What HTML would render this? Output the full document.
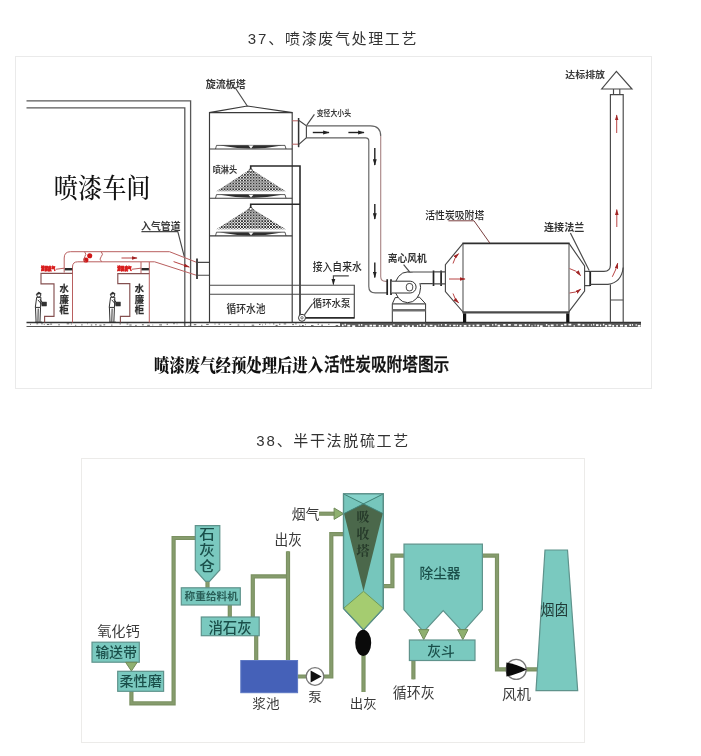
<!DOCTYPE html>
<html lang="zh-CN">
<head>
<meta charset="utf-8">
<title>工艺流程图</title>
<style>
html,body{margin:0;padding:0;background:#fff;}
body{width:701px;height:756px;position:relative;overflow:hidden;font-family:"Liberation Sans","Noto Sans CJK SC",sans-serif;}
.title{position:absolute;left:0;width:666px;text-align:center;font-size:15px;line-height:20px;letter-spacing:1.64px;color:#333;white-space:nowrap;}
.title span{letter-spacing:1.9px;}
#t1{top:28.5px;}
#t2{top:430.5px;}
.fig{position:absolute;left:0;top:0;width:701px;height:756px;will-change:transform;}
.title{will-change:transform;}
svg text{font-family:"Liberation Sans","Noto Sans CJK SC",sans-serif;}
svg .serif{font-family:"Liberation Serif","Noto Serif CJK SC",serif;}
svg .k{fill:none;stroke:#484848;stroke-width:1.15;}
svg .r{fill:none;stroke:#b95f5f;stroke-width:1;}
svg .pipe{fill:none;stroke:#7b9162;stroke-width:4.2;stroke-linejoin:miter;}
svg .pipei{fill:none;stroke:#869c6d;stroke-width:2;stroke-linejoin:miter;}
svg .box{fill:#7ac9bf;stroke:#5f938c;stroke-width:1.2;}
svg .bt{fill:#1a4f4a;font-size:13.5px;font-weight:500;}
svg .lb{fill:#3a3a3a;font-size:13.5px;}
svg .s1{fill:#222;font-size:10px;}
</style>
</head>
<body>
<div class="title" id="t1"><span>37</span>、喷漆废气处理工艺</div>
<div class="title" id="t2"><span>38</span>、半干法脱硫工艺</div>
<svg class="fig" width="701" height="756" viewBox="0 0 701 756">
<g id="fig1">
<rect x="15.5" y="56.5" width="636" height="332" fill="#fff" stroke="#eaeaea" stroke-width="1"/>
<defs>
<pattern id="mesh" x="250.7" y="169" width="2.9" height="2.9" patternUnits="userSpaceOnUse">
<rect width="2.9" height="2.9" fill="#fff"/>
<path d="M0 0 L2.9 2.9 M2.9 0 L0 2.9" stroke="#333" stroke-width="0.95" fill="none"/>
</pattern>
<marker id="ak" viewBox="0 0 10 6" refX="9" refY="3" markerWidth="6.5" markerHeight="4.4" orient="auto" markerUnits="userSpaceOnUse"><path d="M0 0 L10 3 L0 6 Z" fill="#222"/></marker>
<marker id="ar" viewBox="0 0 10 6" refX="9" refY="3" markerWidth="6" markerHeight="3.6" orient="auto" markerUnits="userSpaceOnUse"><path d="M0 0 L10 3 L0 6 Z" fill="#a02525"/></marker>
</defs>
<path class="k" style="stroke:#585858;stroke-width:1.3" d="M26.5 100.8 H190.6 V327 M26.5 107.9 H184.8 V327"/>
<text class="serif" transform="translate(53.83 197.79) scale(1.0077 1.1156)" style="font-size:24px;font-weight:500;fill:#111">喷漆车间</text>
<rect x="340" y="322" width="301" height="5" fill="#5e5e5e"/>
<path d="M26.5 322.5 H641" fill="none" stroke="#333" stroke-width="1.3"/>
<path d="M26.5 326.5 H340" fill="none" stroke="#555" stroke-width="1"/>
<path d="M30.0 324.3 h0.9 M36.4 323.8 h1.8 M41.1 323.8 h1.7 M43.8 324.5 h0.8 M46.9 324.5 h2.4 M50.1 324.1 h2.0 M58.3 324.8 h1.5 M66.7 323.8 h2.5 M70.9 324.0 h0.9 M75.2 325.3 h1.0 M81.2 324.9 h1.4 M87.0 323.8 h0.7 M90.8 325.0 h1.5 M95.1 324.8 h1.6 M99.4 325.2 h2.1 M103.4 324.8 h1.8 M111.2 325.1 h1.2 M119.5 323.9 h1.5 M126.6 324.0 h1.7 M129.3 325.0 h2.3 M135.3 325.4 h1.3 M141.9 324.8 h1.9 M147.2 325.3 h2.7 M152.5 325.0 h0.7 M159.2 324.9 h2.8 M166.6 324.2 h1.4 M173.2 323.7 h1.6 M176.7 323.9 h0.7 M183.8 323.9 h1.1 M188.6 325.4 h0.8 M193.8 324.7 h2.5 M201.2 325.3 h1.2 M206.2 324.4 h2.5 M214.5 324.0 h1.0 M218.4 324.1 h1.7 M224.4 324.2 h0.6 M229.4 324.4 h1.8 M237.6 325.0 h1.7 M243.8 325.0 h0.7 M251.7 325.2 h2.5 M259.0 324.4 h1.5 M262.1 324.9 h0.7 M265.0 324.1 h1.0 M269.6 323.8 h0.6 M273.0 323.9 h1.4 M275.6 325.4 h2.0 M279.0 324.2 h1.4 M283.7 323.9 h2.5 M292.2 324.6 h1.7 M295.2 323.9 h1.4 M299.3 325.3 h1.0 M301.9 325.5 h1.8 M305.3 324.7 h0.7 M311.0 325.6 h2.5 M317.6 324.2 h1.4 M321.2 325.2 h1.8 M328.3 324.3 h1.1 M335.7 325.6 h2.5 M343.0 325.3 h2.2 " fill="none" stroke="#555" stroke-width="0.9"/>
<path d="M342.0 325.4 h1.6 M344.5 324.6 h1.4 M347.3 325.7 h2.9 M352.2 326.1 h3.0 M358.5 325.2 h1.3 M361.1 324.9 h1.2 M364.8 326.0 h2.6 M369.5 325.6 h2.6 M373.1 325.7 h2.8 M378.7 325.8 h1.9 M381.8 325.9 h1.5 M386.3 326.2 h1.7 M389.8 326.1 h2.4 M393.4 324.8 h1.1 M397.7 325.9 h1.1 M401.8 326.2 h2.2 M405.7 325.5 h1.1 M407.6 326.2 h2.2 M412.0 326.1 h1.8 M416.9 325.9 h1.3 M419.6 325.1 h1.3 M423.2 325.0 h1.7 M426.1 326.1 h1.6 M429.7 325.5 h2.8 M434.4 326.1 h1.9 M438.4 325.4 h0.8 M441.2 324.9 h0.8 M444.9 324.9 h1.8 M449.4 325.5 h1.5 M453.1 325.5 h2.5 M456.7 325.5 h1.3 M459.6 325.8 h1.9 M463.7 325.8 h2.8 M468.5 325.6 h1.9 M472.6 325.7 h1.8 M476.5 325.4 h2.9 M482.0 326.0 h2.9 M486.4 325.5 h2.9 M492.2 324.8 h1.1 M495.2 324.7 h1.3 M497.6 325.7 h2.5 M503.2 324.8 h2.4 M508.1 324.8 h2.7 M514.2 325.0 h2.9 M518.9 325.4 h3.0 M524.8 324.9 h1.7 M528.7 325.1 h1.2 M531.6 325.8 h0.8 M534.7 325.3 h0.8 M537.2 325.6 h1.9 M540.1 326.2 h2.5 M545.9 324.8 h1.4 M548.2 325.8 h1.4 M550.8 325.3 h2.8 M556.5 325.0 h1.1 M560.8 325.5 h2.3 M564.2 324.7 h2.3 M568.4 324.7 h2.9 M573.7 325.9 h1.0 M577.7 324.7 h2.7 M582.4 325.1 h2.0 M587.6 325.0 h1.1 M590.9 325.0 h1.0 M593.1 324.7 h1.2 M596.0 325.1 h2.5 M600.0 325.4 h1.2 M602.9 324.6 h1.4 M605.1 325.8 h2.0 M608.4 325.4 h2.9 M612.3 325.9 h1.8 M616.2 325.9 h1.7 M620.0 325.7 h3.0 M624.6 325.9 h2.4 M629.4 325.2 h1.6 M631.9 324.8 h1.0 M635.6 325.0 h1.2 M637.8 325.9 h2.7 " fill="none" stroke="#fff" stroke-width="1.7"/>
<path class="r" d="M64.2 272.5 V258 Q64.2 251.7 70.5 251.7 H169.5 L196.5 262.3"/>
<path class="r" d="M72.5 322.5 V267 Q72.5 261.8 77.7 261.8 H154.6 L196.5 275.3"/>
<path class="r" d="M141 262 V273.5 M149.3 262 V322.5"/>
<path class="r" d="M101.2 251.7 q2.6 2.6 0 5 t0.4 5" />
<circle cx="89.7" cy="255.7" r="2.55" fill="#d01818"/><circle cx="85.9" cy="260" r="2.55" fill="#d01818"/>
<path class="r" d="M84.6 251.7 q2.4 2.6 0.2 5 t0.6 5" stroke-width="0.9"/>
<path d="M121.5 258 H137" fill="none" stroke="#b03030" stroke-width="0.9" marker-end="url(#ar)"/>
<path d="M173.6 261.6 L189.3 267.1" fill="none" stroke="#b03030" stroke-width="0.9" marker-end="url(#ar)"/>
<text x="41.0" y="269.9" style="font-size:4.6px;font-weight:bold;fill:#d81e1e;stroke:#d81e1e;stroke-width:0.7" textLength="14.2" lengthAdjust="spacingAndGlyphs">漆雾废气</text>
<text x="117.3" y="269.9" style="font-size:4.6px;font-weight:bold;fill:#d81e1e;stroke:#d81e1e;stroke-width:0.7" textLength="14.2" lengthAdjust="spacingAndGlyphs">漆雾废气</text>
<path class="r" d="M55.5 269.3 L64.2 268.2 M131.6 269.3 L141 268.2" stroke-width="0.8"/>
<rect x="64.8" y="268" width="7.4" height="2.4" fill="#2a2a2a"/>
<rect x="141.5" y="268" width="7.4" height="2.4" fill="#2a2a2a"/>
<path class="k" style="stroke:#855050" d="M72.5 273.4 H41 V283.8 H54 V316.3 H44.6 V322.5"/>
<path class="k" style="stroke:#855050" d="M149.3 273.6 H117.8 V283.6 H129.8 V316.3 H120.4 V322.5"/>
<text x="64.2" y="291.6" text-anchor="middle" class="s1" style="font-size:9.3px;font-weight:700;fill:#2e2e2e;stroke:#2e2e2e;stroke-width:0.25">水</text><text x="64.2" y="302.5" text-anchor="middle" class="s1" style="font-size:9.3px;font-weight:700;fill:#2e2e2e;stroke:#2e2e2e;stroke-width:0.25">廉</text><text x="64.2" y="313.4" text-anchor="middle" class="s1" style="font-size:9.3px;font-weight:700;fill:#2e2e2e;stroke:#2e2e2e;stroke-width:0.25">柜</text>
<text x="139.5" y="291.6" text-anchor="middle" class="s1" style="font-size:9.3px;font-weight:700;fill:#2e2e2e;stroke:#2e2e2e;stroke-width:0.25">水</text><text x="139.5" y="302.5" text-anchor="middle" class="s1" style="font-size:9.3px;font-weight:700;fill:#2e2e2e;stroke:#2e2e2e;stroke-width:0.25">廉</text><text x="139.5" y="313.4" text-anchor="middle" class="s1" style="font-size:9.3px;font-weight:700;fill:#2e2e2e;stroke:#2e2e2e;stroke-width:0.25">柜</text>
<g transform="translate(38.8 295) scale(0.97)" fill="none" stroke="#2a2a2a" stroke-width="1"><path d="M-2.2 2.4 L-3.6 12.8 L1.8 12.8 L2.2 2.4 Z" fill="#fff"/><path d="M-3.4 12.8 L-2.8 27.6 M1.8 12.8 L1.2 27.6 M-0.6 14 L-0.9 27.6 M-3.8 28 H3.2"/><circle cx="0" cy="0" r="2.1" fill="#fff"/><path d="M-2.6 -0.6 L-0.2 -3 L2.6 -1.4 Z" fill="#333" stroke-width="0.6"/><path d="M1.2 4.2 L4.2 8.6 M-1 5 L3.2 9.8"/><rect x="3.2" y="7.3" width="4.6" height="4" fill="#333" stroke="#222" stroke-width="0.6"/></g>
<g transform="translate(112.7 295) scale(0.97)" fill="none" stroke="#2a2a2a" stroke-width="1"><path d="M-2.2 2.4 L-3.6 12.8 L1.8 12.8 L2.2 2.4 Z" fill="#fff"/><path d="M-3.4 12.8 L-2.8 27.6 M1.8 12.8 L1.2 27.6 M-0.6 14 L-0.9 27.6 M-3.8 28 H3.2"/><circle cx="0" cy="0" r="2.1" fill="#fff"/><path d="M-2.6 -0.6 L-0.2 -3 L2.6 -1.4 Z" fill="#333" stroke-width="0.6"/><path d="M1.2 4.2 L4.2 8.6 M-1 5 L3.2 9.8"/><rect x="3.2" y="7.3" width="4.6" height="4" fill="#333" stroke="#222" stroke-width="0.6"/></g>
<text transform="translate(141.00 229.72) scale(0.9898 1.0430)" style="font-size:10.0px;font-weight:700;fill:#3a3a3a">入气管道</text>
<path class="k" d="M141.4 231.6 H177.8 L184.3 256.6" stroke-width="0.9"/>
<path d="M197 258.5 V279" stroke="#333" stroke-width="1.8" fill="none"/>
<path class="k" d="M197 262.4 H209.5 M197 275.2 H209.5"/>
<path stroke="#3a3a3a" stroke-width="1.15" fill="none" d="M209.5 322.5 V112.6 L247.3 106 L292.2 112.6 V322.5"/>
<path stroke="#3a3a3a" stroke-width="1.15" fill="none" d="M209.5 112.6 H292.2 M209.5 149 H292.2 M209.5 198.2 H292.2 M209.5 235.8 H292.2"/>
<text transform="translate(205.70 88.00) scale(1.0051 1.0645)" style="font-size:10.0px;font-weight:700;fill:#3a3a3a">旋流板塔</text>
<path class="k" d="M234.7 87 L247.3 106"/>
<path d="M215.5 149 L216.5 145.4 H285 L286 149" fill="none" stroke="#333" stroke-width="0.8"/><path d="M220 145.6 H282 Q251 151.6 220 145.6 Z" fill="#2e2e2e"/><path d="M248.5 145.6 L251 148.4 L253.5 145.6 Z" fill="#fff"/>
<path d="M215.5 198.2 L216.5 194.6 H285 L286 198.2" fill="none" stroke="#333" stroke-width="0.8"/><path d="M220 194.8 H282 Q251 200.8 220 194.8 Z" fill="#2e2e2e"/><path d="M248.5 194.79999999999998 L251 197.6 L253.5 194.79999999999998 Z" fill="#fff"/>
<path d="M215.5 235.8 L216.5 232.20000000000002 H285 L286 235.8" fill="none" stroke="#333" stroke-width="0.8"/><path d="M220 232.4 H282 Q251 238.4 220 232.4 Z" fill="#2e2e2e"/><path d="M248.5 232.4 L251 235.20000000000002 L253.5 232.4 Z" fill="#fff"/>
<path d="M250.7 169 L285.8 191.2 H216.4 Z" fill="url(#mesh)" stroke="none"/>
<circle cx="250.7" cy="170.3" r="1.6" fill="#fff" stroke="#333" stroke-width="0.8"/>
<path d="M250.7 207.6 L285.8 229.2 H216.4 Z" fill="url(#mesh)" stroke="none"/>
<circle cx="250.7" cy="208.9" r="1.6" fill="#fff" stroke="#333" stroke-width="0.8"/>
<text transform="translate(212.67 172.75) scale(0.8219 0.8710)" style="font-size:10.0px;font-weight:700;fill:#3a3a3a">喷淋头</text>
<path d="M250.7 169.4 V166 H300 V316 M250.7 208 V204.3 H300" fill="none" stroke="#2a2a2a" stroke-width="1.6"/>
<path class="k" d="M209.5 285.2 H354.3 V318.6 M209.5 294.2 H354.3"/>
<path d="M305.4 317.8 H354.3" stroke="#2a2a2a" stroke-width="1.8" fill="none"/>
<circle cx="302" cy="317.8" r="3.5" fill="#fff" stroke="#333" stroke-width="1"/><circle cx="302" cy="317.8" r="1.2" fill="none" stroke="#333" stroke-width="0.7"/>
<text transform="translate(226.61 312.69) scale(0.9770 1.0860)" style="font-size:10.0px;font-weight:500;fill:#2a2a2a">循环水池</text>
<text transform="translate(312.71 271.27) scale(0.9817 1.1075)" style="font-size:10.0px;font-weight:500;fill:#2a2a2a">接入自来水</text>
<path class="k" d="M348.8 275.8 H333.4 V284.6" marker-end="url(#ak)"/>
<text transform="translate(312.72 307.35) scale(0.9439 1.0000)" style="font-size:10.0px;font-weight:500;fill:#2a2a2a">循环水泵</text>
<path class="k" d="M312.6 303.6 L304.4 314.8" stroke-width="0.9"/>
<path class="r" d="M292.2 120.8 H298.6 M292.2 144.2 H298.6"/>
<path d="M298.6 118 V147.2" stroke="#333" stroke-width="1.5" fill="none"/>
<path class="k" d="M298.6 120.2 L306.4 125.7 V137.7 L298.6 144.6"/>
<text transform="translate(316.73 115.90) scale(0.6870 0.8065)" style="font-size:10.0px;font-weight:700;fill:#3a3a3a">变径大小头</text>
<path class="k" d="M314.4 114.4 L306.8 125.2" stroke-width="0.9"/>
<path class="k" style="stroke:#626262" d="M306.4 125.8 H370.5 Q380.7 125.8 380.7 136"/>
<path class="k" style="stroke:#ab8888" d="M380.7 136 V276.5 Q380.7 281.3 385.5 281.3 H387"/>
<path class="k" style="stroke:#626262" d="M306.4 137.8 H365.6 Q368.8 137.8 368.8 141 V286.5 Q368.8 292.9 375.2 292.9 H387"/>
<path fill="none" stroke="#222" stroke-width="1.4" marker-end="url(#ak)" d="M312.8 132.5 H329"/><path fill="none" stroke="#222" stroke-width="1.4" marker-end="url(#ak)" d="M348.4 132.5 H364"/>
<path fill="none" stroke="#222" stroke-width="1.4" marker-end="url(#ak)" d="M374.8 148 V165"/><path fill="none" stroke="#222" stroke-width="1.4" marker-end="url(#ak)" d="M374.8 204 V219"/><path fill="none" stroke="#222" stroke-width="1.4" marker-end="url(#ak)" d="M374.8 262.5 V277.5"/>
<path d="M387.2 279.2 V295 M391 279.2 V295" stroke="#222" stroke-width="1.7" fill="none"/>
<path stroke="#333" stroke-width="1" fill="#fff" d="M395.2 297.6 L392.3 303.8 V322.3 H425.6 V303.8 L419.5 297.2 Z"/>
<path class="k" d="M392.5 303.8 H425.4"/><path d="M392.5 310.2 H425.4" fill="none" stroke="#6e6e6e" stroke-width="2.6"/>
<ellipse stroke="#333" stroke-width="1" fill="#fff" cx="407.7" cy="287.3" rx="12.9" ry="15.4"/>
<rect x="408" y="272.5" width="25" height="10.6" fill="#fff"/>
<path class="k" d="M407.5 272 H432.8 M420.4 283.6 H432.8"/>
<path stroke="#333" stroke-width="1" fill="#fff" d="M391.6 281.2 H410.2 A5.9 5.9 0 0 1 410.2 293 H391.6"/>
<rect x="406.3" y="283.5" width="6.4" height="7.4" rx="2.8" fill="#fff" stroke="#333" stroke-width="0.9"/>
<path d="M433.5 270.6 V286 M441.1 270.6 V286" stroke="#222" stroke-width="1.7" fill="none"/>
<path class="k" d="M433.6 271.8 H445.3 M433.6 283.8 H445.3"/>
<text transform="translate(387.81 261.92) scale(0.9745 1.0430)" style="font-size:10.0px;font-weight:700;fill:#333">离心风机</text>
<path class="k" d="M403.6 264.6 L409.6 271.8" stroke-width="0.9"/>
<path d="M463 243.4 V312.6 M569 243.4 V312.6" fill="none" stroke="#5a5a5a" stroke-width="1.1"/>
<path d="M462.4 243.4 H569.6" fill="none" stroke="#2e2e2e" stroke-width="1.8"/>
<path d="M462.4 312.4 H569.6" stroke="#4a4a4a" stroke-width="2.4" fill="none"/>
<path class="k" d="M463 243.4 L445.4 264.6 V291.5 L463 312"/>
<path class="k" d="M569 243.4 L584.6 266 V291 L569 311.6"/>
<rect x="463" y="313.4" width="3.2" height="9" fill="#111"/><rect x="566.2" y="313.4" width="3.2" height="9" fill="#111"/>
<text transform="translate(425.21 219.19) scale(0.9865 1.0753)" style="font-size:10.0px;font-weight:500;fill:#2a2a2a">活性炭吸附塔</text>
<path class="r" style="stroke:#7a4040" d="M448.4 220.8 H474 L489.8 243" stroke-width="0.9"/>
<path fill="none" stroke="#b03030" stroke-width="0.9" marker-end="url(#ar)" d="M449 279 H465"/>
<path fill="none" stroke="#b03030" stroke-width="0.9" marker-end="url(#ar)" d="M453 263.5 Q454.5 257.5 458.6 253.6"/>
<path fill="none" stroke="#b03030" stroke-width="0.9" marker-end="url(#ar)" d="M453 293.5 Q454.5 299 458.6 302.8"/>
<path fill="none" stroke="#b03030" stroke-width="0.9" marker-end="url(#ar)" d="M569.6 268.6 Q576 270 580.6 275.6"/>
<path fill="none" stroke="#b03030" stroke-width="0.9" marker-end="url(#ar)" d="M569.6 293 Q575.5 293 580.8 289.2"/>
<text transform="translate(544.10 230.53) scale(1.0026 1.0215)" style="font-size:10.0px;font-weight:700;fill:#333">连接法兰</text>
<path class="k" d="M570.4 233 L589.2 270.6" stroke-width="0.9"/>
<path class="k" d="M584.3 271.4 H590 M584.3 285.6 H590"/>
<path d="M590.2 271 V286" stroke="#222" stroke-width="1.8" fill="none"/>
<path class="k" d="M590.2 271.4 H604 Q610.4 271.4 610.4 265 V94.6 H623.2 V322.3"/>
<path class="k" d="M590.2 284.4 H608 Q621.5 282.5 623.2 267.5"/>
<path class="k" d="M610.4 284.4 V322.3 M610.4 300 H623.2"/>
<path class="k" d="M616.4 71.4 L632 89 H601.7 Z M613.5 89 V94.6 M619.8 89 V94.6"/>
<text transform="translate(565.30 77.79) scale(0.9923 0.9462)" style="font-size:10.0px;font-weight:700;fill:#3a3a3a">达标排放</text>
<path fill="none" stroke="#b03030" stroke-width="0.9" marker-end="url(#ar)" d="M616.7 133 V115"/><path fill="none" stroke="#b03030" stroke-width="0.9" marker-end="url(#ar)" d="M616.8 227 V209.6"/>
<path fill="none" stroke="#b03030" stroke-width="0.9" marker-end="url(#ar)" d="M612.3 276.8 Q616 270 617.7 263.2"/>
<text class="serif" transform="translate(154.08 371.72) scale(0.9610 1.1492)" style="font-size:16px;font-weight:900;fill:#111">喷漆废气经预处理后进入</text>
<text transform="translate(323.97 371.48) scale(0.9793 1.1022)" style="font-size:16px;font-weight:500;fill:#111" stroke="#111" stroke-width="0.35">活性炭吸附塔图示</text>
</g>
<g id="fig2">
<rect x="81.5" y="458.5" width="503" height="284" fill="#fff" stroke="#ecebe9" stroke-width="1"/>
<path class="pipe" d="M131.4 690 V703.3 H173.6 V538 H196"/><path class="pipei" d="M131.4 690 V703.3 H173.6 V538 H196"/>
<path class="pipe" d="M207.5 580 V589"/><path class="pipei" d="M207.5 580 V589"/>
<path class="pipe" d="M229.8 604 V618"/><path class="pipei" d="M229.8 604 V618"/>
<path class="pipe" d="M252.8 618 V576.4 H288"/><path class="pipei" d="M252.8 618 V576.4 H288"/>
<path class="pipe" d="M288 551.3 V661"/><path class="pipei" d="M288 551.3 V661"/>
<path class="pipe" d="M256.2 635 V661"/><path class="pipei" d="M256.2 635 V661"/>
<path class="pipe" d="M297 676.5 H331.3 V534.2 H344"/><path class="pipei" d="M297 676.5 H331.3 V534.2 H344"/>
<path class="pipe" d="M319 513.7 H336"/><path class="pipei" d="M319 513.7 H336"/>
<path class="pipe" d="M363.5 650 V692"/><path class="pipei" d="M363.5 650 V692"/>
<path class="pipe" d="M383 586.1 H392.4 V555.6 H404"/><path class="pipei" d="M383 586.1 H392.4 V555.6 H404"/>
<path class="pipe" d="M482 555.6 H497 V669.3 H537"/><path class="pipei" d="M482 555.6 H497 V669.3 H537"/>
<path class="pipe" d="M413.4 660 V679.3"/><path class="pipei" d="M413.4 660 V679.3"/>
<path d="M334.1 508 L343.6 513.7 L334.1 519.4 Z" fill="#8fb070" stroke="#6f8a58" stroke-width="1"/>
<path class="box" d="M195.3 525.6 H219.8 V570 L209.5 581.3 H205.5 L195.3 570 Z"/>
<text transform="translate(199.37 539.49) scale(1.1594 0.9956)" style="font-size:13.5px;font-weight:500;fill:#1a4f4a">石</text>
<text transform="translate(199.37 555.44) scale(1.1594 1.0514)" style="font-size:13.5px;font-weight:500;fill:#1a4f4a">灰</text>
<text transform="translate(199.37 570.88) scale(1.1594 1.0036)" style="font-size:13.5px;font-weight:500;fill:#1a4f4a">仓</text>
<rect class="box" x="181.3" y="587.8" width="59" height="17.2"/>
<text transform="translate(184.57 600.49) scale(1.0671 1.0753)" style="font-size:10px;font-weight:700;fill:#2a5f58">称重给料机</text>
<rect class="box" x="201.3" y="617" width="57.9" height="18.7"/>
<text transform="translate(208.42 632.85) scale(1.0705 1.1310)" style="font-size:13.5px;font-weight:500;fill:#1a4f4a">消石灰</text>
<text transform="translate(97.13 635.52) scale(1.0553 0.9717)" style="font-size:13.5px;font-weight:400;fill:#3a3a3a">氧化钙</text>
<rect class="box" x="92" y="642.2" width="47.3" height="20"/>
<text transform="translate(95.55 657.28) scale(1.0223 1.0115)" style="font-size:13.5px;font-weight:500;fill:#1a4f4a">输送带</text>
<path d="M125.6 662.3 H137.2 L131.4 671 Z" fill="#8fb070" stroke="#6f8a58" stroke-width="1"/>
<rect class="box" x="117.7" y="671.3" width="45.9" height="20"/>
<text transform="translate(119.54 686.38) scale(1.0426 1.0115)" style="font-size:13.5px;font-weight:500;fill:#1a4f4a">柔性磨</text>
<rect x="240.8" y="660.5" width="56.8" height="32.2" fill="#4561b8" stroke="#5d78c4" stroke-width="1"/>
<text transform="translate(252.25 708.12) scale(1.0108 0.9638)" style="font-size:13.5px;font-weight:400;fill:#3a3a3a">浆池</text>
<circle cx="315" cy="676.5" r="8.8" fill="#fff" stroke="#777" stroke-width="1.3"/>
<path d="M310.6 670.6 L321.6 676.5 L310.6 682.4 Z" fill="#111"/>
<text transform="translate(308.26 700.62) scale(1.0064 0.9638)" style="font-size:13.5px;font-weight:400;fill:#3a3a3a">泵</text>
<text transform="translate(291.64 518.96) scale(1.0340 1.0275)" style="font-size:13.5px;font-weight:400;fill:#3a3a3a">烟气</text>
<text transform="translate(274.55 545.12) scale(1.0108 1.0673)" style="font-size:13.5px;font-weight:400;fill:#3a3a3a">出灰</text>
<text transform="translate(349.76 708.12) scale(0.9954 0.9638)" style="font-size:13.5px;font-weight:400;fill:#3a3a3a">出灰</text>
<path d="M343.5 493.9 H383.3 V608.4 L363.5 629.8 L343.5 608.4 Z" fill="#76c6bc" stroke="#5a8f88" stroke-width="1.2"/>
<path d="M343.5 493.9 L363.4 504 L383.3 493.9 Z" fill="#86d3cb"/>
<path d="M344 513.6 L363.4 504 L382.8 513.6 L363.5 591.3 Z" fill="#4b684b"/>
<path d="M343.5 493.9 L383 513.6 M383.3 493.9 L344 513.6" fill="none" stroke="#3f7f73" stroke-width="1"/>
<path d="M363.5 591.3 L383.3 608.4 L363.5 629.8 L343.5 608.4 Z" fill="#a5cc70" stroke="#6f9a5a" stroke-width="1"/>
<path d="M343.5 493.9 H383.3 V608.4 L363.5 629.8 L343.5 608.4 Z" fill="none" stroke="#5a8f88" stroke-width="1.2"/>
<text x="362.9" y="520.8" text-anchor="middle" class="bt serif" style="font-size:13px;fill:#263a2a;font-weight:700">吸</text><text x="362.9" y="537.8" text-anchor="middle" class="bt serif" style="font-size:13px;fill:#263a2a;font-weight:700">收</text><text x="362.9" y="554.6" text-anchor="middle" class="bt serif" style="font-size:13px;fill:#263a2a;font-weight:700">塔</text>
<ellipse cx="363.2" cy="642.8" rx="8" ry="13.1" fill="#0a0a0a"/>
<path class="box" d="M404 544.2 H482.4 V609.8 L464.5 629.8 H461 L443.2 610.7 L425.4 629.8 H422 L404 609.8 Z"/>
<text transform="translate(419.45 578.24) scale(1.0147 1.0434)" style="font-size:13.5px;font-weight:500;fill:#1a4f4a">除尘器</text>
<path d="M418.5 629.6 H428.9 L423.7 639.6 Z" fill="#8fb070" stroke="#6f8a58" stroke-width="1"/>
<path d="M457.6 629.6 H468 L462.8 639.6 Z" fill="#8fb070" stroke="#6f8a58" stroke-width="1"/>
<rect class="box" x="409.4" y="640" width="65.6" height="20.5"/>
<text transform="translate(427.15 655.97) scale(1.0224 1.0195)" style="font-size:13.5px;font-weight:500;fill:#1a4f4a">灰斗</text>
<text transform="translate(392.84 698.20) scale(1.0350 1.0912)" style="font-size:13.5px;font-weight:400;fill:#3a3a3a">循环灰</text>
<circle cx="516.2" cy="669.4" r="10" fill="#fff" stroke="#777" stroke-width="1.3"/>
<path d="M506.4 662.6 Q516 664.2 526.8 669.4 Q516 674.6 506.4 676.4 Z" fill="#0a0a0a"/>
<text transform="translate(502.12 698.86) scale(1.0687 1.0275)" style="font-size:13.5px;font-weight:400;fill:#3a3a3a">风机</text>
<path class="box" d="M545 550 H567.5 L577.7 690.7 H536 Z"/>
<text transform="translate(540.44 614.72) scale(1.0340 1.0673)" style="font-size:13.5px;font-weight:400;fill:#1f3a36">烟囱</text>
</g>
</svg>
</body>
</html>
